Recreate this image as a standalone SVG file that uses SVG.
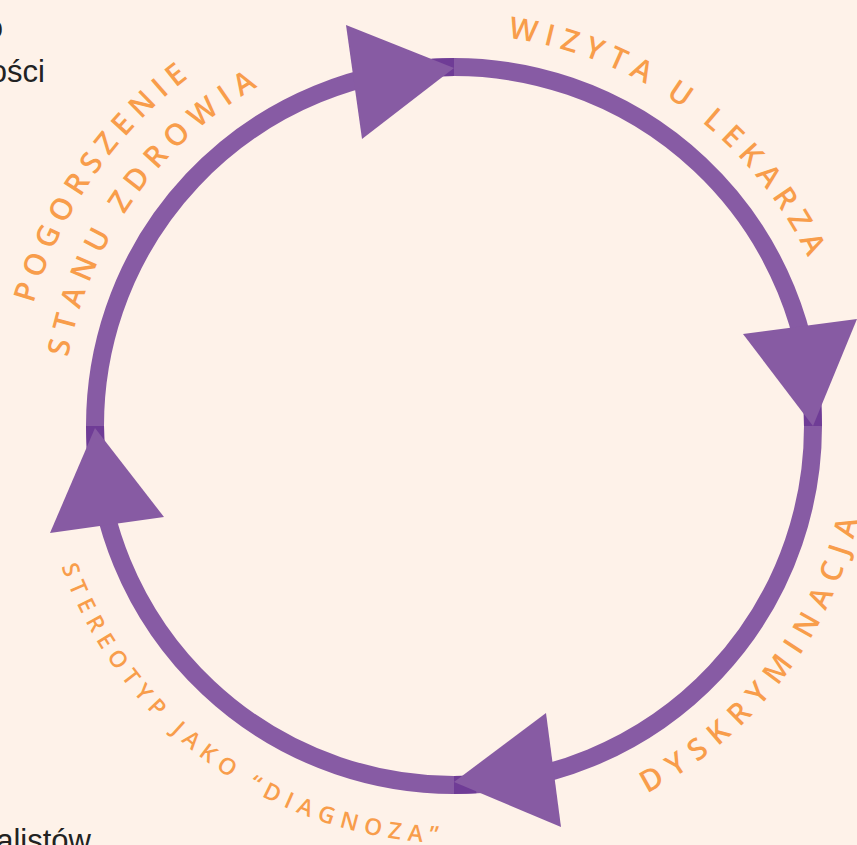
<svg xmlns="http://www.w3.org/2000/svg" width="857" height="845" viewBox="0 0 857 845">
<style>
.arc{fill:none;stroke:#693592;stroke-opacity:0.8;stroke-width:18;stroke-linecap:butt}
.head{fill:#875BA3}
.lbl{fill:#F89D4B;font-family:"Open Sans","Noto Sans","DejaVu Sans",sans-serif;font-weight:600;font-size:30px}
.sm{font-size:23px}
.bg{fill:#222;font-family:"Liberation Sans",Arial,sans-serif;font-size:31px}
</style>
<defs>
<path id="p-wizyta" d="M507.9,37.7 A392,392 0 0 1 846,426"/>
<path id="p-dysk" d="M646.9,793.4 A415,415 0 0 0 869,426"/>
<path id="p-stereo" d="M61.4,566.6 A417,417 0 0 0 662.5,787.1"/>
<path id="p-pogor" d="M33.4,303.8 A438,438 0 0 1 454,-12"/>
<path id="p-stanu" d="M68.1,357.2 A392,392 0 0 1 454,34"/>
</defs>
<rect width="857" height="845" fill="#FEF2E9"/>
<g id="background-text">
<text class="bg" x="3" y="38" text-anchor="end">o</text>
<text class="bg" x="45" y="82" text-anchor="end">ości</text>
<text class="bg" x="91" y="851" text-anchor="end">alistów</text>
</g>
<g id="connectors">
<path class="arc" d="M95.7,447.9 A359,359 0 0 1 454,67"/>
<path class="arc" d="M432.1,67.7 A359,359 0 0 1 813,426"/>
<path class="arc" d="M812.3,404.1 A359,359 0 0 1 454,785"/>
<path class="arc" d="M475.9,784.3 A359,359 0 0 1 95,426"/>
<polygon class="head" points="346,25 362,139 454,68"/>
<polygon class="head" points="743,334 857,319 813,426"/>
<polygon class="head" points="546,713 561,827 454,782"/>
<polygon class="head" points="50,533 164,517 95,428"/>
</g>
<g id="node-wizyta">
<text class="lbl"><textPath href="#p-wizyta" textLength="387" lengthAdjust="spacing">WIZYTA U LEKARZA</textPath></text>
</g>
<g id="node-dyskryminacja">
<text class="lbl"><textPath href="#p-dysk" textLength="356" lengthAdjust="spacing">DYSKRYMINACJA</textPath></text>
</g>
<g id="node-stereotyp">
<text class="lbl sm"><textPath href="#p-stereo" textLength="496" lengthAdjust="spacing">STEREOTYP JAKO “DIAGNOZA”</textPath></text>
</g>
<g id="node-pogorszenie">
<text class="lbl"><textPath href="#p-pogor" textLength="279" lengthAdjust="spacing">POGORSZENIE</textPath></text>
<text class="lbl"><textPath href="#p-stanu" textLength="341" lengthAdjust="spacing">STANU ZDROWIA</textPath></text>
</g>
</svg>
